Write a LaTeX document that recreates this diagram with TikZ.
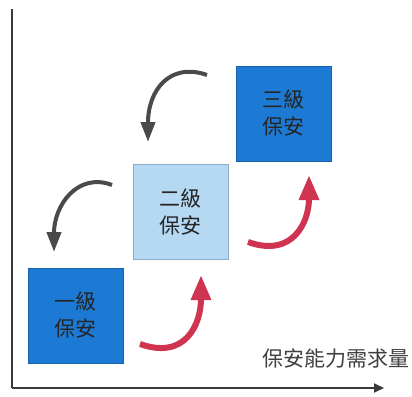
\documentclass[tikz,border=0pt]{standalone}
\usepackage{fontspec}
\newfontfamily\cjk{Noto Sans CJK TC}
\usetikzlibrary{arrows.meta}
\definecolor{dblue}{HTML}{1C7AD4}
\definecolor{lblue}{HTML}{B5D8F3}
\definecolor{redarr}{HTML}{CF3550}
\definecolor{grayarr}{HTML}{4A4A4A}
\definecolor{axisc}{HTML}{3A3A3A}
\tikzset{
  levelbox/.style={draw=#1!80!black, line width=0.6pt, fill=#1, minimum width=95pt, minimum height=95pt,
    inner sep=0pt, align=center, font=\cjk\fontsize{21}{27}\selectfont, text=black!85},
  grayflow/.style={draw=grayarr, line width=4pt, -{Triangle[length=20pt,width=14pt]}},
  redflow/.style={draw=redarr, line width=6pt, -{Triangle[length=25pt,width=19pt]}},
  axisline/.style={draw=axisc, line width=2pt}
}
\begin{document}
\begin{tikzpicture}[x=1pt,y=-1pt]
\useasboundingbox (0,0) rectangle (412,396);
\fill[white] (0,0) rectangle (412,396);
% axes
\coordinate (o) at (12,388);
\coordinate (ytop) at (12,9);
\coordinate (xend) at (384,388);
\draw[axisline] (ytop) -- (o);
\draw[axisline, -{Triangle[length=10pt,width=9pt]}] (o) -- (xend);
\node[anchor=base east, font=\cjk\fontsize{21}{25}\selectfont, text=black!75, inner sep=0pt] (xlabel) at (410,366) {保安能力需求量};
% boxes
\node[levelbox=dblue] (b1) at (75.5,315.5) {一級\\保安};
\node[levelbox=lblue] (b2) at (180.5,212) {二級\\保安};
\node[levelbox=dblue] (b3) at (283.5,113.5) {三級\\保安};
% red arrows
\coordinate (r1s) at (140,344);
\coordinate (r1e) at (201,275);
\draw[redflow] (r1s) .. controls (185,360) and (201,325) .. (r1e);
\coordinate (r2s) at (248,242);
\coordinate (r2e) at (309,175);
\draw[redflow] (r2s) .. controls (293,258) and (309,222) .. (r2e);
% gray arrows
\coordinate (g1s) at (207,75);
\coordinate (g1e) at (148,142);
\draw[grayflow] (g1s) .. controls (170,62) and (148,90) .. (g1e);
\coordinate (g2s) at (112,185);
\coordinate (g2e) at (54,252);
\draw[grayflow] (g2s) .. controls (78,172) and (54,205) .. (g2e);
\end{tikzpicture}
\end{document}
